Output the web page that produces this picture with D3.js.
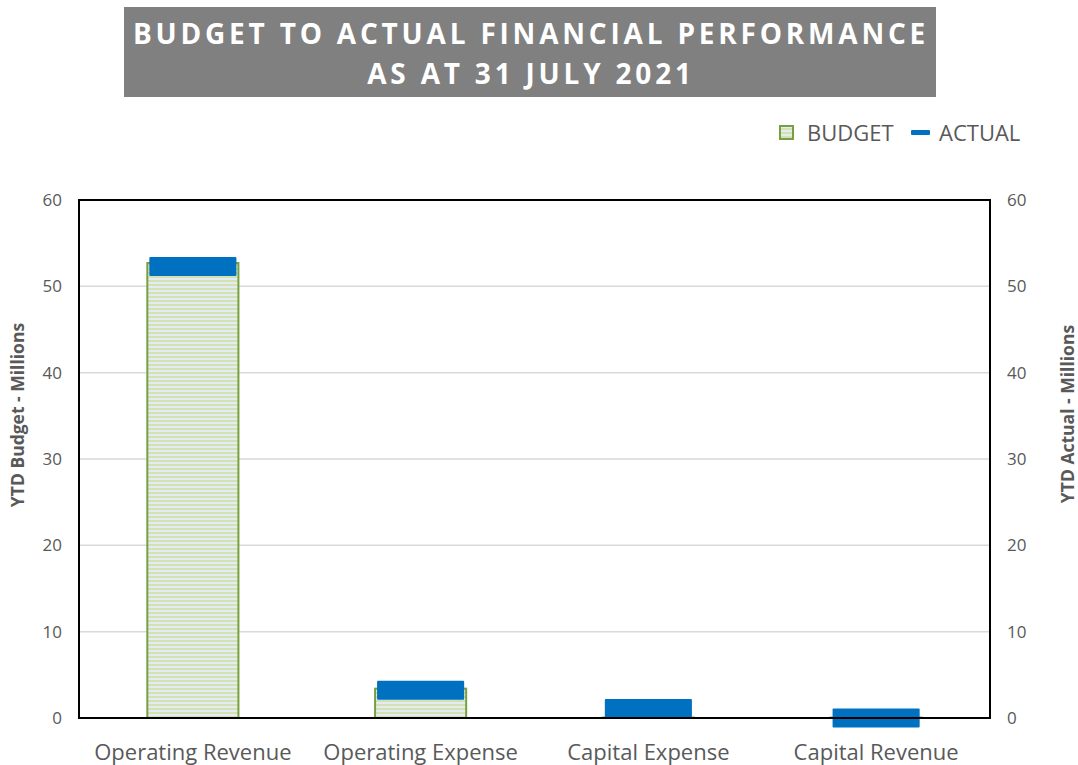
<!DOCTYPE html>
<html>
<head>
<meta charset="utf-8">
<script src="https://cdn.jsdelivr.net/npm/d3@7"></script>
<style>
  body { margin: 0; background: #fff; }
  svg { font-family: "Open Sans", "Noto Sans", sans-serif; }
</style>
</head>
<body>
<div id="chart"></div>
<script>
// DATA
var categories = ["Operating Revenue", "Operating Expense", "Capital Expense", "Capital Revenue"];
var budget = [52.7, 3.4, 0.05, 0.05];   // YTD budget, millions
var actual = [52.3, 3.2, 1.1, 0.0];     // YTD actual, millions
var yTicks = [0, 10, 20, 30, 40, 50, 60];
var titleLines = ["BUDGET TO ACTUAL FINANCIAL PERFORMANCE", "AS AT 31 JULY 2021"];

// SETUP
var width = 1078, height = 765;
var margin = {left: 79, right: 88, top: 200, bottom: 47};
var plotW = width - margin.left - margin.right,
    plotH = height - margin.top - margin.bottom;

var svg = d3.select("#chart").append("svg")
    .attr("width", width)
    .attr("height", height);

// striped fill for the budget bars
var defs = svg.append("defs");
var pat = defs.append("pattern")
    .attr("id", "stripes")
    .attr("patternUnits", "userSpaceOnUse")
    .attr("width", 8).attr("height", 4);
pat.append("rect").attr("width", 8).attr("height", 4).attr("fill", "#e3ecf5");
pat.append("rect").attr("y", 0).attr("width", 8).attr("height", 2).attr("fill", "#d3e2b0");

// title box
svg.append("rect")
    .attr("x", 124).attr("y", 7).attr("width", 812).attr("height", 90)
    .attr("fill", "#808080");
svg.selectAll("text.title")
  .data(titleLines).enter().append("text")
    .attr("class", "title")
    .attr("x", 531).attr("y", function(d, i) { return 44 + i * 40; })
    .attr("text-anchor", "middle")
    .attr("fill", "#fff")
    .attr("font-size", 28).attr("font-weight", "bold")
    .attr("letter-spacing", 3.8)
    .text(function(d) { return d; });

var g = svg.append("g").attr("transform", "translate(" + margin.left + "," + margin.top + ")");

var x = d3.scaleBand().domain(categories).range([0, plotW]).paddingInner(0.6).paddingOuter(0.3);
var y = d3.scaleLinear().domain([0, 60]).range([plotH, 0]);

// gridlines
g.selectAll("line.grid")
  .data(yTicks.filter(function(t) { return t > 0 && t < 60; }))
  .enter().append("line")
    .attr("class", "grid")
    .attr("x1", 0).attr("x2", plotW)
    .attr("y1", y).attr("y2", y)
    .attr("stroke", "#d9d9d9").attr("stroke-width", 1.5);

// budget bars
g.selectAll("rect.budget")
  .data(budget).enter().append("rect")
    .attr("class", "budget")
    .attr("x", function(d, i) { return x(categories[i]); })
    .attr("width", x.bandwidth())
    .attr("y", function(d) { return y(d); })
    .attr("height", function(d) { return y(0) - y(d); })
    .attr("fill", "url(#stripes)")
    .attr("stroke", "#77a040").attr("stroke-width", 2);

// actual markers (thick dashes centred on value)
var dashH = 19;
g.selectAll("rect.actual")
  .data(actual).enter().append("rect")
    .attr("class", "actual")
    .attr("x", function(d, i) { return x(categories[i]) + 2; })
    .attr("width", x.bandwidth() - 4)
    .attr("y", function(d) { return y(d) - dashH / 2; })
    .attr("height", dashH)
    .attr("rx", 1)
    .attr("fill", "#0070c0");

// plot border
g.append("rect")
    .attr("width", plotW).attr("height", plotH)
    .attr("fill", "none").attr("stroke", "#000").attr("stroke-width", 2);

// axes
var yLeft = g.append("g").call(d3.axisLeft(y).tickValues(yTicks).tickSize(0).tickPadding(17));
var yRight = g.append("g").attr("transform", "translate(" + plotW + ",0)")
    .call(d3.axisRight(y).tickValues(yTicks).tickSize(0).tickPadding(17));
var xAxis = g.append("g").attr("transform", "translate(0," + plotH + ")")
    .call(d3.axisBottom(x).tickSize(0).tickPadding(26));
[yLeft, yRight, xAxis].forEach(function(a) {
  a.select(".domain").remove();
  a.selectAll("text").attr("fill", "#595959").attr("font-family", "Open Sans, sans-serif");
});
yLeft.selectAll("text").attr("font-size", 17);
yRight.selectAll("text").attr("font-size", 17);
xAxis.selectAll("text").attr("font-size", 22);

// axis titles
svg.append("text")
    .attr("transform", "translate(24,415) rotate(-90)")
    .attr("text-anchor", "middle")
    .attr("fill", "#595959").attr("font-size", 17.5).attr("font-weight", "bold")
    .text("YTD Budget - Millions");
svg.append("text")
    .attr("transform", "translate(1074,414) rotate(-90)")
    .attr("text-anchor", "middle")
    .attr("fill", "#595959").attr("font-size", 17.5).attr("font-weight", "bold")
    .text("YTD Actual - Millions");

// legend
var leg = svg.append("g");
leg.append("rect").attr("x", 780).attr("y", 126).attr("width", 13).attr("height", 13)
    .attr("fill", "url(#stripes)").attr("stroke", "#77a040").attr("stroke-width", 2);
leg.append("text").attr("x", 807).attr("y", 141).attr("font-size", 22).attr("fill", "#595959").text("BUDGET");
leg.append("rect").attr("x", 911).attr("y", 130).attr("width", 19).attr("height", 5).attr("rx", 1).attr("fill", "#0070c0");
leg.append("text").attr("x", 939).attr("y", 141).attr("font-size", 22).attr("fill", "#595959").text("ACTUAL");
</script>
</body>
</html>
